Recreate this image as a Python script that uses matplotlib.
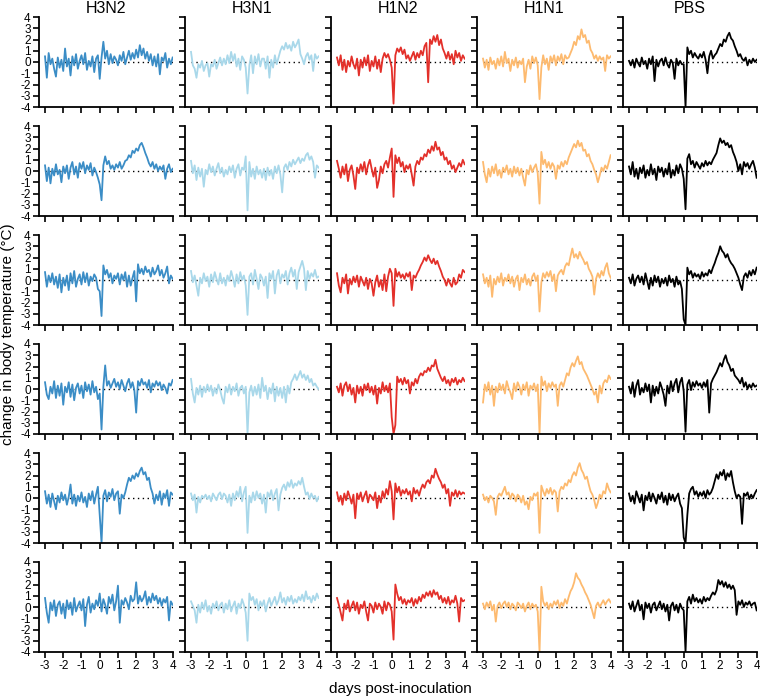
import numpy as np
import matplotlib
matplotlib.use("Agg")
import matplotlib.pyplot as plt

# sampling grid: every 0.1 day from -3 to 4
days = np.round(np.linspace(-3, 4, 71), 1)
x_ticks = [-3, -2, -1, 0, 1, 2, 3, 4]
y_ticks = [-4, -3, -2, -1, 0, 1, 2, 3, 4]
groups = ["H3N2", "H3N1", "H1N2", "H1N1", "PBS"]

h3n2 = [
    [0.5, -1.4, 0.8, -0.2, 0.3, -0.6, -1.3, 0.4, -0.5, 0.2,
     -0.8, 1.2, -0.4, 0.3, -1.2, 0.5, -0.3, 0.7, -0.6, 0.1,
     0.6, -0.2, 0.8, -0.7, 0.1, -0.4, 0.5, -0.9, 0.3, 0.6,
     -1.5, 0.4, 1.8, 0.3, 1.0, -0.2, 0.7, -0.1, 0.5, 0.2,
     -0.3, 0.6, 0.1, 0.9, -0.2, 0.4, 1.0, 0.2, 0.8, 0.3,
     1.1, 0.4, 1.5, 0.6, 1.2, 0.3, 0.9, 0.1, 0.7, -0.3,
     0.5, -0.4, 0.7, -1.1, 0.4, 0.1, 0.8, -0.5, 0.3, -0.2, 0.4],
    [0.5, -0.9, 0.3, -1.1, 0.2, -0.4, 0.6, -0.3, 0.1, -1.0,
     0.4, -0.2, 0.5, -0.7, 0.3, 0.8, -0.3, 0.4, -0.6, 0.7,
     0.2, 0.8, -0.2, 0.5, 0.1, 0.7, -0.4, 0.3, -0.1, -0.6,
     -1.2, -2.6, 0.5, 1.3, 0.6, 0.9, 0.2, 0.5, 0.1, 0.6,
     0.3, 0.8, 0.2, 0.5, 0.9, 1.0, 1.4, 1.2, 1.8, 1.6,
     2.0, 1.8, 2.3, 2.5, 2.1, 1.6, 1.2, 0.7, 0.4, 0.8,
     0.2, 0.6, 0.0, 0.4, 0.1, 0.5, -0.7, 0.2, 0.6, -0.1, 0.2],
    [0.7, -0.6, 0.4, -0.2, 0.6, -0.4, 0.3, -0.7, 0.5, -1.1,
     0.2, -0.5, 0.4, -0.9, 0.6, -0.3, 0.8, -0.6, 0.1, 0.5,
     -0.4, 0.7, -0.2, 0.6, -0.5, 0.3, -0.1, 0.5, 0.2, -0.8,
     -1.0, -3.2, 1.3, 0.5, 0.9, 0.2, 0.6, -0.3, 0.4, 0.1,
     0.6, -0.4, 0.5, 0.0, 0.7, -0.6, 0.4, -0.5, 0.2, 0.8,
     -1.9, 1.4, 0.6, 1.0, 0.5, 1.2, 0.7, 0.9, 0.3, 1.1,
     0.5, 0.8, 1.3, 0.4, 0.9, 0.2, 0.6, 1.2, -0.3, 0.4, 0.1],
    [0.6, -0.5, -0.9, 0.2, -0.4, 0.7, -0.8, 0.3, -0.6, 0.5,
     -1.4, 0.2, -0.3, 0.6, -0.7, 0.4, -1.0, 0.1, 0.5, -0.4,
     0.3, -0.8, 0.6, -0.2, 0.4, -0.5, 0.7, -0.3, 0.2, -0.9,
     -0.4, -3.6, 0.2, 2.1, 0.3, 0.7, 0.1, 0.5, 0.9, 0.2,
     0.6, 0.0, 0.8, 0.3, -0.2, 0.5, 0.9, 0.1, 0.6, -0.1,
     -2.1, 0.7, 0.3, 0.9, 0.4, 0.6, 0.1, 0.8, -0.3, 0.5,
     0.2, 0.7, 0.3, 0.6, -0.1, 0.4, 0.1, -0.4, 0.5, 0.3, 0.8],
    [0.6, -0.5, 0.3, -0.8, 0.4, -0.3, -1.0, 0.2, -0.4, 0.5,
     -0.2, 0.3, -0.6, 0.1, 1.2, -0.5, 0.3, -0.7, 0.2, -0.3,
     0.5, -0.4, 0.1, -0.8, 0.4, -0.2, 0.6, -0.5, 0.3, 1.0,
     -1.5, -4.0, 0.2, 0.7, -0.3, 0.5, 0.1, 0.8, -0.2, 0.4,
     0.6, -1.4, 0.3, 0.0, 0.5, 1.2, 1.8, 1.5, 2.0, 1.7,
     2.2, 1.9, 2.4, 2.7, 2.1, 2.3, 1.6, 1.8, 0.9, 0.4,
     -0.5, 0.3, -0.2, 0.6, -0.6, 0.4, 0.0, 0.7, -0.7, 0.5, 0.3],
    [0.8, -0.5, -1.4, 0.4, -0.3, 0.6, -0.8, 0.2, 0.5, -0.6,
     0.3, -1.0, 0.6, -0.2, 0.4, -0.7, 0.8, -0.4, 0.1, 0.5,
     -0.3, 0.7, -1.7, 0.2, 0.9, -0.5, 0.3, -0.2, 0.6, 0.1,
     1.2, -0.4, 0.7, 0.2, -0.6, 0.9, 0.3, 1.1, -0.3, 0.5,
     1.9, -1.4, 0.6, 0.2, 0.8, 0.4, -0.2, 1.0, 0.5, 0.7,
     2.2, 0.3, 1.0, 0.5, 0.8, 1.4, 0.2, 0.9, 0.4, 1.2,
     0.6, 1.0, 0.3, 0.8, 0.1, 0.7, 0.4, 0.9, -1.2, 0.5, 0.2],
]

h3n1 = [
    [0.9, -0.3, -0.6, -1.4, -0.2, -0.5, 0.1, -0.8, -0.3, -0.1,
     -1.3, -0.2, -0.4, 0.2, -0.6, -0.1, 0.4, -0.3, 0.3, -0.2,
     0.6, -0.1, 0.9, 0.1, 0.7, -0.4, 0.3, -0.7, 0.5, 0.2,
     -0.5, -2.8, -0.3, 0.6, -1.0, 0.5, -0.2, 0.7, -0.4, 0.3,
     0.3, -0.6, 0.5, -1.4, 0.2, -0.5, 0.6, -0.2, 0.4, 1.0,
     1.4, 1.1, 1.7, 1.2, 1.5, 1.0, 1.8, 1.3, 1.6, 2.0,
     0.7, 0.3, -0.2, 0.5, 0.8, 0.2, 0.6, -0.8, 0.7, 0.3, 0.5],
    [0.9, -0.2, 0.5, -0.8, 0.3, -0.5, 0.2, -1.4, 0.1, -0.3,
     0.6, -0.1, 0.4, -0.4, 0.2, 0.7, -0.2, 0.3, -0.5, 0.1,
     -0.3, 0.4, -0.1, 0.5, -0.6, 0.2, 0.6, -0.4, 0.3, 0.1,
     1.3, -3.5, 0.8, -0.5, 0.2, -0.7, 0.4, -0.3, 0.1, -0.6,
     0.2, -0.8, 0.3, -0.4, 0.1, -0.7, 0.4, -0.2, 0.5, -0.3,
     -1.9, 0.3, 0.6, 0.1, 0.8, 0.4, 1.0, 0.6, 0.9, 1.2,
     0.7, 1.1, 0.9, 1.4, 1.6, 1.0, 1.3, 0.8, -0.6, 0.5, 0.3],
    [0.8, -0.2, 0.4, -0.5, -1.4, 0.2, -0.3, 0.6, -0.1, 0.3,
     -0.6, 0.5, -0.2, 0.7, 0.1, -0.4, 0.6, -0.3, 0.2, -0.5,
     0.4, -0.1, 0.8, 0.2, -0.6, 0.5, -0.3, 0.7, 0.0, 0.4,
     -0.5, -3.1, 0.3, 0.6, -0.4, 0.9, 0.1, -0.8, 0.5, 0.2,
     -0.5, 0.3, -1.6, 0.6, 0.1, 0.8, -1.2, 0.4, 0.9, -0.3,
     0.5, 0.2, 0.8, -0.4, 0.6, 1.1, 0.3, 0.9, -0.8, 0.7,
     1.2, 1.7, 1.0, -0.9, 0.8, 0.1, 0.6, 0.3, 0.9, 0.2, 0.3],
    [0.9, -0.4, -1.2, 0.1, -0.5, 0.3, -0.7, 0.2, -0.3, 0.4,
     -0.2, 0.3, -0.6, 0.1, -0.4, 0.4, -0.1, -0.8, -1.3, 0.2,
     -0.3, 0.4, -0.5, 0.2, -0.2, 0.5, -0.6, 0.1, 0.3, -0.4,
     0.2, -4.0, -0.3, 0.3, -0.6, 0.2, -0.5, 0.4, -0.8, 1.0,
     -0.2, 0.3, -0.9, 0.1, -0.4, 0.5, -1.1, 0.2, -0.6, 0.1,
     -0.8, 0.2, -1.2, 0.3, -0.4, 0.6, 0.9, 1.3, 0.8, 1.2,
     1.6, 1.0, 1.3, 0.8, 1.2, 0.6, 0.9, 0.3, 0.5, 0.2, 0.0],
    [0.4, -0.2, 0.3, -1.3, 0.1, -0.4, 0.2, 0.0, 0.3, -0.1,
     0.2, -0.3, 0.4, 0.1, -0.2, 0.3, 0.5, -0.1, 0.4, 0.2,
     -0.4, 0.3, -0.7, 0.4, -0.2, 0.6, 0.1, 1.0, -0.3, 0.5,
     1.0, -3.1, 0.2, -0.4, 0.5, -0.2, 0.6, 0.0, 0.4, -0.5,
     0.3, -1.3, 0.5, 0.1, 0.7, -0.2, 0.4, 0.8, -1.1, 0.3,
     0.9, 1.2, 0.7, 1.4, 1.0, 1.6, 0.9, 1.3, 1.1, 1.5,
     1.2, 1.8, 1.0, 0.3, 0.5, -0.1, 0.4, 0.0, 0.2, -0.3, 0.1],
    [0.5, 0.1, -0.3, -1.4, 0.2, -0.5, 0.4, -0.2, 0.6, -0.4,
     0.1, -0.6, 0.3, -0.1, 0.5, -0.3, 0.2, 0.4, -0.5, 0.3,
     -0.2, 0.6, -0.4, 0.1, 0.5, -0.6, 0.3, -0.1, 0.7, 0.2,
     -0.5, -3.0, 1.2, 0.6, 0.9, 0.2, 0.7, -0.3, 0.5, 0.1,
     0.6, -0.4, 0.3, 0.8, 0.1, 0.5, 0.9, 0.2, 0.6, 1.3,
     0.4, 0.8, 0.2, 0.9, 0.5, 1.0, 0.3, 0.7, 0.4, 0.9,
     0.6, 1.1, 0.5, 1.4, 0.7, 0.9, 0.4, 1.0, 0.6, 1.2, 0.8],
]

h1n2 = [
    [0.4, -0.3, 0.6, -0.7, 0.2, -0.9, 0.1, -0.4, 0.5, -0.2,
     -0.6, 0.3, -1.2, 0.2, -0.5, 0.4, -0.3, 0.6, -0.8, 0.1,
     -0.4, 0.5, -0.6, 0.2, -0.9, 0.3, 0.8, 0.4, 0.7, 0.2,
     -0.5, -3.7, 0.6, 1.2, 0.9, 1.3, 0.7, 1.1, 0.3, 0.6,
     0.1, 0.5, 0.9, 0.2, 0.8, 0.4, 1.0, 0.6, 1.4, 1.7,
     -1.8, 2.0, 1.6, 2.3, 1.8, 2.4, 1.5, 2.0, 1.2, 0.8,
     0.3, 0.9, 0.2, 0.7, -0.2, 1.0, 0.4, 0.8, 0.1, 0.6, 0.3],
    [0.9, 0.2, -0.6, 0.4, -0.3, 0.6, -0.9, 0.1, 0.5, -0.4,
     -1.6, 0.3, -0.2, 0.6, 0.0, 0.8, -0.3, 0.5, 1.0, 0.2,
     -0.5, 0.3, -1.5, -0.8, 0.4, -0.2, 0.6, 0.9, 0.3, 1.2,
     2.0, -2.3, 1.4, 0.7, 1.2, 0.4, 0.8, -0.1, 0.5, 0.2,
     0.6, -0.3, -1.3, 0.4, 0.9, 0.6, 1.2, 1.0, 1.5, 1.3,
     1.9, 1.6, 2.2, 1.8, 2.6, 1.9, 2.1, 1.4, 1.7, 1.0,
     1.2, 0.6, 0.9, 0.2, 0.5, -0.1, 0.3, 0.7, 0.4, 1.0, 0.6],
    [0.6, -0.5, -1.1, 0.2, -0.3, 0.5, -1.2, 0.1, -0.4, 0.3,
     -0.2, 0.4, -0.6, 0.3, -0.1, -0.5, 0.2, -0.8, 0.1, -0.3,
     -1.4, -0.2, 0.4, -0.6, 0.0, -0.9, 0.5, -1.0, 0.3, 1.0,
     0.6, -2.3, 1.0, 0.3, 0.7, 0.2, 0.5, 0.1, 0.6, 0.3,
     0.7, -0.9, 0.4, 0.2, 0.6, 0.9, 1.3, 1.6, 2.0, 1.7,
     2.2, 1.8, 1.5, 1.9, 1.4, 1.7, 1.2, 0.8, 0.3, 0.0,
     -0.5, 0.1, -0.3, -0.6, 0.2, -0.4, -0.2, 0.5, 0.2, 0.9, 0.7],
    [0.2, -0.3, 0.5, -0.6, 0.3, 0.6, -0.2, 0.4, -0.5, 0.1,
     -1.2, 0.3, -0.4, 0.2, -0.6, 0.4, -0.1, 0.5, -0.3, 0.2,
     -0.5, 0.3, -1.3, 0.1, -0.4, 0.6, -0.2, 0.3, -0.3, 0.5,
     -2.5, -4.0, -3.2, 1.1, 0.6, 0.9, 0.4, 1.0, 0.5, 0.8,
     -0.4, 0.6, 0.3, 0.9, 0.5, 1.1, 1.4, 1.2, 1.6, 1.5,
     1.9, 1.6, 2.1, 2.0, 2.6, 1.8, 1.4, 1.0, 0.7, 1.1,
     0.5, 0.8, 0.3, 0.9, 0.6, 1.0, 0.4, 0.8, 0.6, 1.0, 0.7],
    [0.5, -0.3, 0.2, -0.6, 0.4, -0.2, 0.6, 0.1, -0.5, 0.3,
     -1.8, 0.4, -0.1, 0.5, -0.3, 0.2, 0.6, -0.4, 0.3, 0.1,
     -0.2, 0.5, -0.9, 0.2, -0.4, 0.6, 0.0, 0.8, 0.3, 1.5,
     0.6, -1.9, 1.3, 0.5, 1.0, 0.2, 0.7, 0.4, 0.8, 0.3,
     0.6, -0.3, 0.9, 0.4, 0.7, 0.2, 0.8, 1.2, 0.9, 1.4,
     1.6, 1.3, 2.0, 1.8, 2.6, 2.1, 1.7, 1.4, 0.9, 1.2,
     0.4, 0.8, -0.7, 0.5, 0.2, 0.7, 0.1, 0.6, 0.3, 0.5, 0.4],
    [0.8, 0.2, -0.5, -1.2, 0.3, -0.2, 0.6, -0.4, 0.1, 0.5,
     -0.3, 0.4, -0.6, 0.2, -0.1, 0.5, -0.4, -1.2, 0.3, 0.1,
     -0.5, 0.4, -0.2, 0.3, 0.0, -0.6, 0.5, -0.3, 0.4, 0.2,
     -0.4, -2.9, 2.0, 1.2, 0.6, 0.9, 0.3, 0.7, 0.2, 0.6,
     0.4, 0.8, 0.1, 0.7, 0.3, 0.9, 0.5, 1.1, 0.8, 1.3,
     1.0, 1.4, 0.9, 1.5, 1.1, 1.3, 0.7, 1.0, 0.4, 0.8,
     0.3, 0.9, 0.2, 0.6, 0.4, 1.0, 0.3, -1.3, 0.8, 0.5, 0.6],
]

h1n1 = [
    [0.3, -0.5, 0.2, -0.7, 0.4, -0.2, 0.1, -0.6, 0.3, -0.3,
     0.5, -0.4, 0.9, -0.1, 0.3, -0.8, 0.2, -0.3, 0.4, -0.5,
     0.1, -0.2, 0.3, -1.8, -0.4, 0.2, -0.6, 0.5, -0.1, 0.4,
     -0.3, -3.3, -0.5, 0.6, -0.2, 0.3, -0.7, 0.5, 0.0, 0.6,
     -0.3, 0.5, 0.1, 0.7, -0.2, 0.6, 0.3, 0.4, 0.8, 1.2,
     1.8, 1.5, 2.3, 2.0, 2.9, 2.2, 2.4, 1.7, 1.9, 1.1,
     0.8, 0.3, 0.6, 0.1, 0.5, 0.2, 0.4, -0.8, 0.6, 0.3, 0.5],
    [0.8, -0.3, -1.0, 0.2, -0.5, 0.4, -0.2, 0.6, -0.4, 0.1,
     -0.6, 0.3, -0.1, 0.5, -0.3, 0.2, -0.5, 0.4, -0.2, 0.3,
     -0.4, 0.2, -0.6, -1.3, 0.1, -0.3, 0.5, -0.1, 0.3, 0.6,
     -0.2, -2.9, 1.7, 0.6, 1.0, 0.3, 0.8, 0.2, 0.7, 0.4,
     -0.7, 0.5, 0.2, 0.8, 0.4, 0.9, 0.6, 1.2, 1.6, 2.0,
     2.4, 2.1, 2.7, 2.2, 2.5, 1.8, 1.9, 1.3, 1.5, 0.9,
     0.6, 0.1, -0.3, -1.0, -0.4, 0.3, 0.0, 0.5, 0.2, 0.8, 1.4],
    [0.5, -0.3, 0.2, -0.6, 0.4, -1.5, 0.1, -0.4, 0.3, -0.2,
     0.6, -0.5, 0.2, -0.1, 0.5, -0.3, 0.3, -0.6, 0.1, 0.4,
     -0.9, 0.2, -0.2, 0.5, -0.4, 0.1, -0.5, 0.3, 0.6, -0.1,
     0.4, -2.8, -0.2, 0.6, 0.2, 0.7, 0.3, 0.8, -0.1, 0.5,
     -1.0, 0.4, 0.7, 0.9, 0.5, 1.2, 1.5, 1.3, 2.1, 2.8,
     2.0, 2.3, 1.9, 2.5, 2.1, 1.8, 1.4, 1.6, 1.0, 0.7,
     0.3, -1.3, 0.1, 0.6, 0.2, 0.8, 0.4, 1.1, 1.5, 0.6, 0.2],
    [-1.2, 0.4, -0.2, 0.6, -0.5, 0.3, -1.5, 0.2, -0.3, 0.5,
     -0.1, 0.4, -0.4, 0.7, 0.1, -0.3, -0.9, 0.5, -0.2, 0.6,
     0.2, -0.5, 0.4, -0.1, 0.6, -0.6, 0.3, 0.0, 0.5, -0.2,
     0.4, -4.0, 1.1, 0.3, 0.7, -0.2, 0.5, 0.1, 0.6, 0.2,
     0.4, -1.5, 0.3, 0.6, 0.2, 0.8, 1.4, 1.2, 1.9, 2.3,
     2.0, 2.5, 2.9, 2.2, 2.4, 1.8, 1.5, 1.2, 0.8, 0.4,
     0.0, -0.5, -0.2, -1.2, 0.3, -0.4, 0.5, 0.8, 0.6, 1.2, 0.9],
    [0.3, -0.2, 0.1, -0.4, 0.2, 0.0, -0.3, -1.5, 0.1, 0.4,
     0.2, 0.6, 1.0, 0.3, 0.5, -0.1, 0.4, 0.2, -0.3, 0.3,
     0.1, -0.4, 0.2, -0.6, -0.3, -1.0, 0.1, -0.2, 0.4, 0.2,
     0.5, -3.1, 1.1, 0.6, 0.2, 0.8, 0.4, 0.9, 0.3, 0.7,
     0.5, -1.2, 0.6, 1.0, 0.8, 1.3, 1.1, 1.6, 1.4, 2.0,
     2.3, 2.0, 2.7, 3.1, 2.5, 2.2, 1.7, 1.9, 1.2, 0.6,
     0.3, -0.2, -0.9, -0.4, 0.3, 0.0, 0.6, 0.4, 1.3, 0.8, 0.5],
    [0.3, -0.2, 0.4, 0.0, 0.5, -0.3, 0.2, -1.3, 0.1, 0.4,
     -0.1, 0.3, 0.5, 0.0, 0.4, -0.2, 0.3, 0.1, -0.3, 0.4,
     0.2, -0.1, 0.3, -0.4, 0.1, 0.4, -0.2, 0.3, 0.0, 0.2,
     -0.4, -4.0, 1.8, 0.5, 0.1, 0.4, -0.2, 0.3, 0.0, 0.5,
     0.2, 0.6, -0.1, 0.4, 0.1, 0.7, 0.3, 0.9, 1.4, 1.7,
     2.2, 3.0, 2.6, 2.4, 2.0, 1.7, 1.3, 1.0, 0.6, 0.2,
     -0.4, -1.0, 0.1, 0.4, 0.0, 0.3, 0.6, 0.2, 0.5, 0.7, 0.4],
]

pbs = [
    [0.1, -0.3, 0.2, -0.5, 0.3, -0.1, -0.4, 0.4, -0.2, 0.1,
     -0.6, 0.3, -0.2, 0.5, -1.7, 0.2, -0.4, 0.1, 0.3, -0.3,
     0.4, -0.2, -0.5, 0.2, -0.1, -1.5, 0.3, -0.3, 0.1, -0.2,
     -0.2, -4.0, 1.3, 0.7, 1.0, 0.4, 0.8, 0.5, 0.3, 0.7,
     0.4, 0.9, 0.2, -1.0, 0.5, 1.0, 0.3, 0.6, 0.8, 1.2,
     1.6, 1.4, 2.0, 1.8, 2.3, 2.6, 2.1, 1.9, 1.4, 1.0,
     0.5, 0.7, 0.3, 0.1, 0.4, -0.3, 0.2, -0.1, 0.3, 0.0, 0.2],
    [0.4, -0.3, 0.8, -0.5, 0.2, -0.7, 0.3, -0.2, 0.5, -0.6,
     0.1, -0.4, 0.6, -0.3, 0.2, -0.8, 0.4, -0.1, 0.3, -0.5,
     0.2, -0.3, 0.7, -0.6, 0.1, -0.4, 0.5, -0.2, 0.6, 0.2,
     -0.7, -3.4, 1.1, 1.5, 0.6, 0.9, 0.3, 0.8, 0.5, 0.2,
     0.7, 0.4, 0.9, 0.5, 0.8, 0.6, 1.0, 1.3, 1.6, 2.3,
     2.9, 2.5, 2.7, 2.3, 2.5, 2.1, 2.3, 1.7, 1.3, 0.8,
     0.0, 0.6, -0.3, 0.8, 0.4, 0.7, 0.2, 0.6, 0.9, 0.3, -0.6],
    [0.2, -0.3, 0.5, -0.5, 0.1, 0.4, -0.2, 0.3, -0.4, 0.6,
     -0.1, -0.8, 0.2, -0.5, 0.4, -0.2, 0.3, -0.6, 0.1, -0.3,
     0.2, -0.5, 0.4, -0.2, 0.1, -0.6, 0.3, -0.4, -0.1, -0.8,
     -3.5, -4.0, 1.1, 0.5, 0.8, 0.2, 0.6, 0.3, 0.5, 0.1,
     0.7, 0.3, 0.6, 0.4, 0.9, 0.6, 1.1, 1.5, 2.0, 2.4,
     3.0, 2.6, 2.4, 2.0, 2.3, 1.8, 1.5, 1.3, 1.0, 0.6,
     0.2, -0.4, -0.9, 0.3, 0.6, 0.2, 0.8, 0.4, 0.9, 0.5, 1.1],
    [0.2, -0.4, 0.6, -0.7, 0.3, 0.8, -0.5, 0.1, -0.3, 0.5,
     -0.2, 0.4, -1.2, 0.3, -0.6, 0.2, -0.4, 0.6, 0.1, -0.5,
     -1.5, 0.3, -0.4, 0.7, -0.2, 0.5, 0.9, -0.3, 0.6, 1.0,
     -0.2, -3.8, 0.4, 0.8, -0.1, 0.6, 0.2, 0.7, 0.3, 0.5,
     0.1, 0.6, 0.2, 0.8, -2.1, 0.5, 0.9, 1.2, 1.5, 1.9,
     2.3, 2.0, 2.6, 3.0, 2.4, 2.1, 1.6, 1.8, 1.2, 1.0,
     0.8, 0.5, 1.0, 0.2, 0.6, 0.0, 0.4, 0.1, 0.5, 0.2, 0.3],
    [0.4, -0.3, 0.2, -0.5, 0.6, 0.1, -0.4, 0.3, -1.1, 0.2,
     -0.2, 0.5, -0.3, 0.4, 0.0, -0.5, 0.3, -0.1, 0.5, -0.4,
     0.2, -0.6, 0.4, -0.2, 0.3, -0.3, 0.1, 0.4, -0.5, -0.9,
     -3.5, -4.0, -1.5, 0.4, 0.8, 1.0, 0.3, 0.6, 0.1, 0.5,
     0.2, 0.6, 0.0, 0.7, 0.3, 0.5, 0.9, 1.5, 2.1, 1.7,
     2.3, 2.0, 2.5, 1.6, 2.2, 1.9, 2.4, 1.4, 0.6, 0.0,
     0.3, 0.1, -2.3, 0.4, 0.2, 0.5, -0.1, 0.3, 0.0, 0.4, 0.7],
    [0.3, -0.2, 0.5, -0.4, 0.1, 0.6, -0.3, 0.2, -1.1, 0.4,
     -0.1, 0.3, -0.5, 0.2, 0.4, -0.3, 0.1, 0.5, -0.2, 0.3,
     -0.4, 0.2, -1.2, 0.1, 0.4, -0.3, 0.2, -0.5, 0.3, -0.1,
     -0.3, -4.0, 0.5, 0.9, 0.3, 1.1, 0.5, 0.8, 0.4, 0.7,
     0.3, 0.9, 0.5, 0.8, 0.6, 1.0, 1.3, 1.1, 1.5, 2.4,
     2.0, 2.3, 1.8, 2.2, 1.7, 2.0, 1.6, 1.9, 1.5, -0.7,
     0.5, 0.2, 0.6, 0.0, 0.4, 0.2, 0.5, 0.1, 0.3, 0.4, -0.3],
]

series = [h3n2, h3n1, h1n2, h1n1, pbs]
colors = ["#3b8dc6", "#a9d8ea", "#e3302a", "#fdba6f", "#000000"]

plt.rcParams['font.family'] = ['Liberation Sans', 'DejaVu Sans']
plt.rcParams['axes.unicode_minus'] = False

W, H = 760, 698
fig = plt.figure(figsize=(W / 100, H / 100), dpi=100)

for c in range(5):
    for r in range(6):
        left = 39 + 146 * c
        top = 17 + 109 * r
        ax = fig.add_axes([left / W, 1 - (top + 90) / H, 134 / W, 90 / H])
        ax.hlines(0, days[0], days[-1], colors='k', linestyles=(0, (1, 2.5)),
                  lw=1.0, zorder=1)
        ax.plot(days, series[c][r], color=colors[c], lw=1.3, zorder=2)
        ax.set_xlim(-3.33, 4.02)
        ax.set_ylim(-4, 4)
        ax.set_xticks(x_ticks)
        ax.set_yticks(y_ticks)
        for s in ['top', 'right']:
            ax.spines[s].set_visible(False)
        for s in ['left', 'bottom']:
            ax.spines[s].set_linewidth(1.3)
        ax.tick_params(direction='out', length=4, width=1.2, labelsize=8.5,
                       pad=2)
        if c > 0:
            ax.set_yticklabels([])
        if r < 5:
            ax.set_xticklabels([])
        if r == 0:
            ax.set_title(groups[c], fontsize=11.5, pad=3)

fig.text(400 / W, 1 - 689 / H, 'days post-inoculation', ha='center',
         va='center', fontsize=11)
fig.text(8 / W, 1 - 334 / H, 'change in body temperature (\u00b0C)',
         ha='center', va='center', rotation=90, fontsize=11)

fig.savefig('out.png', dpi=100)
